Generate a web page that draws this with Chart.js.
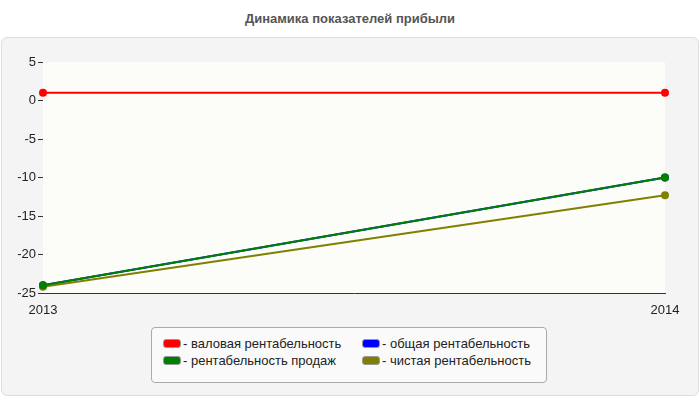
<!DOCTYPE html>
<html><head><meta charset="utf-8">
<script src="https://cdn.jsdelivr.net/npm/chart.js@4"></script>
<style>
body{margin:0;width:700px;height:400px;background:#fff;font-family:"Liberation Sans",Arial,sans-serif;position:relative;overflow:hidden}
#panel{position:absolute;left:1px;top:37px;width:696px;height:357px;background:#f4f4f4;border:1px solid #ddd;border-radius:6px}
#title{position:absolute;top:11px;left:0;width:700px;text-align:center;font-weight:bold;font-size:13px;color:#555}
canvas{position:absolute;left:0;top:0}
#legend{position:absolute;left:151px;top:327px;width:394px;height:54px;background:#fafafa;border:1px solid #aaa;border-radius:4px;font-size:13px;color:#222}
.it{position:absolute;white-space:nowrap}
.sw{display:inline-block;width:16px;height:7px;border-radius:3px;border:1px solid #999;vertical-align:middle;margin-right:2px;margin-top:-2px}
</style></head><body>
<div id="panel"></div>
<div id="title">Динамика показателей прибыли</div>
<canvas id="c" width="700" height="400"></canvas>
<div id="legend"></div>
<script>
const categories=["2013","2014"];
const seriesNames=["валовая рентабельность","общая рентабельность","рентабельность продаж","чистая рентабельность"];
const grossProfitability=[1,1];
const totalProfitability=[-24,-10];
const salesProfitability=[-24,-10];
const netProfitability=[-24.2,-12.3];
const colors=["#ff0000","#0000ff","#008000","#808000"];
const yTicks=[5,0,-5,-10,-15,-20,-25];

const lg=document.getElementById('legend');
const pos=[[11,8],[210,8],[11,25],[210,25]];
seriesNames.forEach((n,i)=>{const d=document.createElement('div');d.className='it';d.style.left=pos[i][0]+'px';d.style.top=pos[i][1]+'px';d.innerHTML='<span class="sw" style="background:'+colors[i]+'"></span>- '+n;lg.appendChild(d);});

const bg={id:'bg',beforeDatasetsDraw(ch){const a=ch.chartArea,c=ch.ctx;c.save();c.fillStyle='#fcfcf8';c.fillRect(a.left,a.top,a.right-a.left,a.bottom-a.top);c.restore();}};
const data=[grossProfitability,totalProfitability,salesProfitability,netProfitability];
const orders=[1,3,0,2];
new Chart(document.getElementById('c'),{type:'line',
data:{labels:categories,datasets:[0,1,2,3].map(i=>({label:seriesNames[i],data:data[i],order:orders[i],borderColor:colors[i],backgroundColor:colors[i],borderWidth:2,pointRadius:3,tension:0}))},
options:{responsive:false,animation:false,layout:{padding:{left:0,right:35,top:62,bottom:0}},
plugins:{legend:{display:false},title:{display:false},tooltip:{enabled:false}},
scales:{x:{offset:false,afterFit(s){s.height=107;},grid:{display:false},border:{color:'#333'},ticks:{color:'#222',font:{size:13,family:'Liberation Sans'},padding:2,maxRotation:0,align:'center'}},
y:{min:-25,max:5,afterFit(s){s.width=43;},afterBuildTicks(s){s.ticks=yTicks.map(v=>({value:v}));},grid:{color:'#ddd',borderDash:[5,4],drawTicks:true,tickLength:5,tickColor:'#333'},border:{color:'#333'},ticks:{color:'#222',font:{size:13,family:'Liberation Sans'},padding:2}}}},
plugins:[bg]});
</script></body></html>
